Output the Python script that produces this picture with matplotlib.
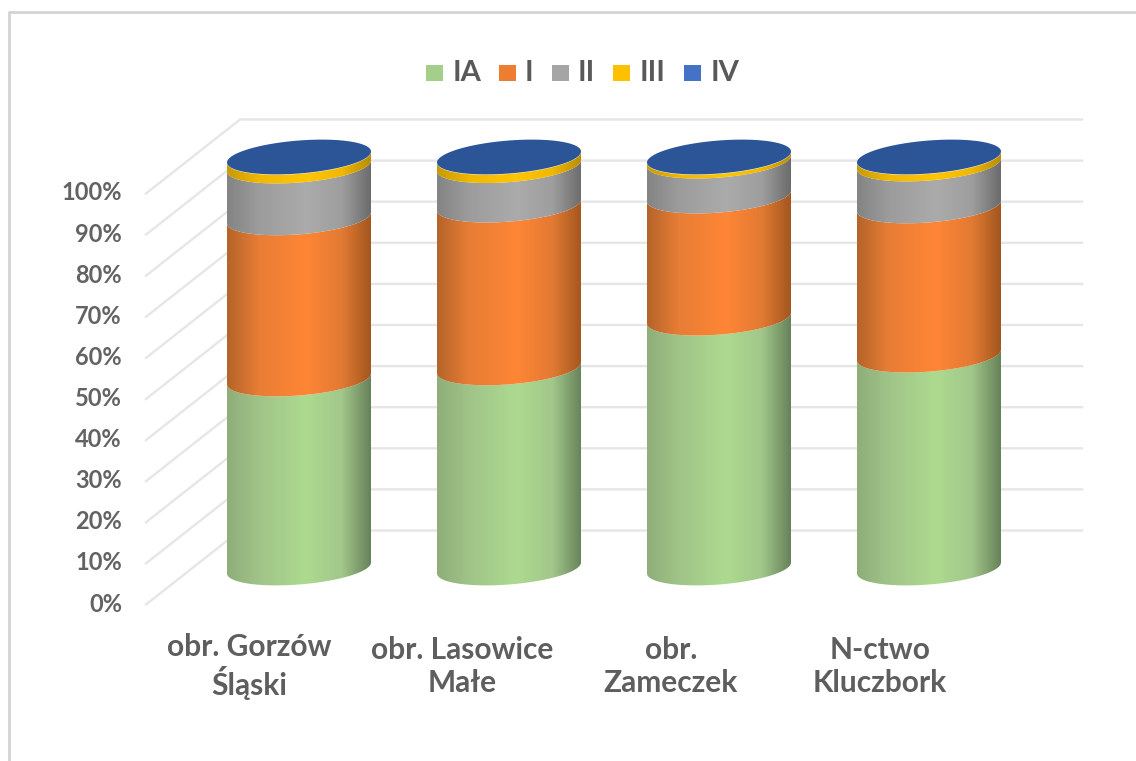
import numpy as np
import matplotlib
matplotlib.use("Agg")
import matplotlib.pyplot as plt
from matplotlib.colors import LinearSegmentedColormap
from matplotlib.patches import Polygon, Rectangle

# Values (percent of each stand)
categories = ["obr. Gorzów\nŚląski", "obr. Lasowice\nMałe", "obr.\nZameczek", "N-ctwo\nKluczbork"]
series_names = ["IA", "I", "II", "III", "IV"]
ia = [46.0, 48.7, 60.8, 51.8]
i_ = [39.2, 39.6, 29.7, 36.3]
ii = [12.6, 9.6, 8.5, 10.2]
iii = [2.1, 2.0, 0.9, 1.6]
iv = [0.1, 0.1, 0.1, 0.1]
y_ticks = [0, 10, 20, 30, 40, 50, 60, 70, 80, 90, 100]

legend_colors = ["#A3CF8B", "#ED7D31", "#A5A5A5", "#FFC000", "#4472C4"]
# edge-left, mid-left, bright, mid-right, edge-right
shades = [
    ["#8FAE7A", "#A0C488", "#AEDA90", "#A2C78A", "#67825A"],
    ["#B5642A", "#E87D35", "#FF8636", "#E27A33", "#A3571F"],
    ["#848484", "#9C9C9C", "#ABABAB", "#9E9E9E", "#6C6C6C"],
    ["#C99A05", "#F0B800", "#FFC507", "#F0B800", "#B98C03"],
]
top_color = "#2C5597"

# pixel geometry of the picture
W, H = 1136, 761
px_per_pct = 4.11
y0_px = 568.0
x0_px = 299.0
step_px = 210.0

fig = plt.figure(figsize=(W / 100, H / 100), dpi=100)
ax = fig.add_axes([0, 0, 1, 1])
ax.axis("off")


def X(px):
    return (px - x0_px) / step_px


def Y(py):
    return (y0_px - py) / px_per_pct


# chart frame, open on the right and the bottom
ax.plot([X(8.5), X(8.5), X(W)], [Y(H), Y(11.5), Y(11.5)], color="#D4D4D4", lw=2, zorder=1)

# walls of the 3D box
dx_px, dy_px = 94, 74
wall_right = 1082
front_left = 146
for t in y_ticks:
    y_front = 604.5 - t * px_per_pct
    ax.plot([X(front_left), X(front_left + dx_px), X(wall_right)],
            [Y(y_front), Y(y_front - dy_px), Y(y_front - dy_px)],
            color="#E6E6E6", lw=1.7, zorder=2, solid_joinstyle="miter")
    ax.text(X(122), Y(y_front - 0.5), f"{t}%", ha="right", va="center", fontsize=17,
            family="Lato", weight="bold", color="#636363")

half_w = 72 / step_px
half_h = 16.5 / px_per_pct
tilt = 5.5 / px_per_pct
t_front = np.linspace(np.pi, 2 * np.pi, 80)
t_all = np.linspace(0, 2 * np.pi, 160)

stack = np.array([ia, i_, ii, iii, iv])
tops = np.cumsum(stack, axis=0)
label_px = [249, 462, 671, 880]

for c in range(len(categories)):
    bottom = 0.0
    for s in range(4):
        top = tops[s, c]
        cmap = LinearSegmentedColormap.from_list("cyl", shades[s])
        xs = c + half_w * np.cos(t_front)
        low = bottom + half_h * np.sin(t_front) + tilt * np.cos(t_front)
        high = top + half_h * np.sin(t_front) + tilt * np.cos(t_front)
        outline = np.vstack([np.column_stack([xs, low]),
                             np.column_stack([xs[::-1], high[::-1]])])
        shape = Polygon(outline, closed=True, fc="none", ec="none", transform=ax.transData)
        ax.add_patch(shape)
        grad = np.interp(np.linspace(0, 1, 200), [0, 0.22, 0.55, 0.8, 1], [0, 0.25, 0.5, 0.75, 1])[None, :]
        img = ax.imshow(grad, cmap=cmap, vmin=0, vmax=1, aspect="auto", zorder=3 + s * 0.1,
                        extent=(c - half_w, c + half_w, low.min() - 1, high.max() + 1))
        img.set_clip_path(shape)
        bottom = top
    # blue cap (series IV sits on top of the stack)
    cap_y = tops[4, c] + half_h * np.sin(t_all) + tilt * np.cos(t_all)
    cap_x = c + half_w * np.cos(t_all)
    ax.fill(cap_x, cap_y, color=top_color, zorder=4, lw=0)
    ax.text(X(label_px[c]), Y(666.5), categories[c], ha="center", va="center",
            fontsize=21.5, family="Lato", weight="bold", color="#5E5E5E", linespacing=1.2)

ax.set_xlim(-x0_px / step_px, (W - x0_px) / step_px)
ax.set_ylim((y0_px - H) / px_per_pct, y0_px / px_per_pct)

# legend placed by hand like the original
leg_box = [426, 499, 552, 613, 684]
leg_text = [453, 525, 578, 640, 711]
for name, col, bx, tx in zip(series_names, legend_colors, leg_box, leg_text):
    ax.add_patch(Rectangle((X(bx), Y(81)), 17 / step_px, 16 / px_per_pct, fc=col, ec="none", zorder=5))
    ax.text(X(tx), Y(73), name, ha="left", va="center", fontsize=21, family="Lato",
            color="#595959", weight="bold")

fig.savefig("out.png", dpi=100)
